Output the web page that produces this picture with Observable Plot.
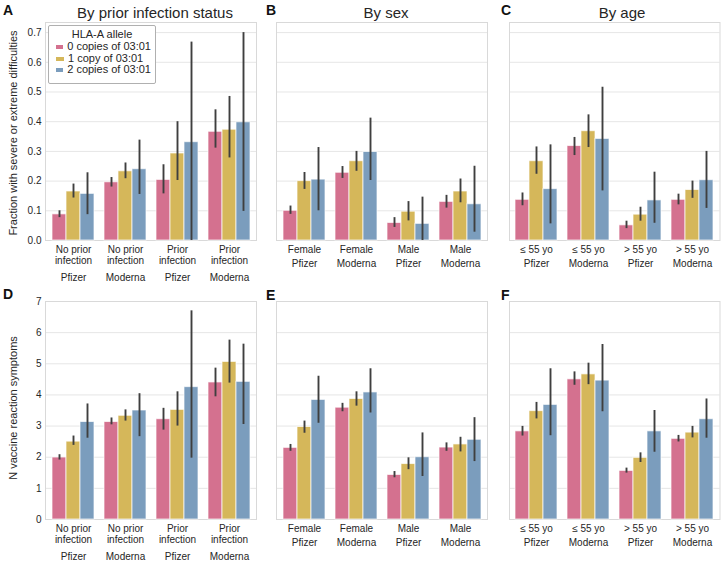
<!DOCTYPE html>
<html>
<head>
<meta charset="utf-8">
<script src="https://cdn.jsdelivr.net/npm/d3@7"></script>
<script src="https://cdn.jsdelivr.net/npm/@observablehq/plot@0.6"></script>
<style>
  body { margin: 0; background: #fff; }
  #fig { position: relative; width: 724px; height: 561px; overflow: hidden; background: #fff;
         font-family: "Liberation Sans", Arial, sans-serif; color: #262626; }
  .abs { position: absolute; white-space: nowrap; }
  .letter { font-weight: bold; font-size: 14px; color: #111; line-height: 1; }
  .title { font-size: 15px; line-height: 1; transform: translateX(-50%); }
  .ylab { font-size: 11px; line-height: 1; transform: translate(-50%, -50%) rotate(-90deg); }
  .legend { background: #fff; border: 1px solid #b0b0b0; border-radius: 2px; box-sizing: border-box;
            font-size: 11px; padding: 2px 4px 0 4px; z-index: 5; }
  .legend .lt { text-align: center; line-height: 12px; margin-bottom: 1px; }
  .legend .lr { display: flex; align-items: center; line-height: 11.7px; }
  .legend .sw { width: 8px; height: 4px; margin: 0 4px 0 3px; }
</style>
</head>
<body>
<div id="fig"></div>
<script>
// ---------- data ----------
const alleles = ["0 copies of 03:01", "1 copy of 03:01", "2 copies of 03:01"];
const alleleColors = ["#d4718f", "#d5b75a", "#7b9dbd"];
const legendTitle = "HLA-A allele";

const vaccines = ["Pfizer", "Moderna", "Pfizer", "Moderna"];
const infectionLabels = ["No prior\ninfection", "No prior\ninfection", "Prior\ninfection", "Prior\ninfection"];
const sexLabels = ["Female", "Female", "Male", "Male"];
const ageLabels = ["\u2264 55 yo", "\u2264 55 yo", "> 55 yo", "> 55 yo"];

const fractionTicks = [0, 0.1, 0.2, 0.3, 0.4, 0.5, 0.6, 0.7];
const countTicks = [0, 1, 2, 3, 4, 5, 6, 7];
const fractionDomain = [0, 0.734];
const countDomain = [0, 7];

const fractionLabel = "Fraction with severe or extreme difficulties";
const countLabel = "N vaccine reaction symptoms";

// A: severe fraction by prior infection
const severeInfection   = [[0.088, 0.165, 0.157], [0.196, 0.233, 0.240], [0.204, 0.293, 0.331], [0.366, 0.373, 0.398]];
const severeInfectionLo = [[0.077, 0.143, 0.087], [0.180, 0.208, 0.155], [0.157, 0.202, 0.000], [0.311, 0.278, 0.098]];
const severeInfectionHi = [[0.100, 0.190, 0.228], [0.212, 0.261, 0.338], [0.255, 0.400, 0.668], [0.440, 0.485, 0.700]];
// B: severe fraction by sex
const severeSex   = [[0.100, 0.200, 0.205], [0.228, 0.267, 0.298], [0.059, 0.097, 0.056], [0.130, 0.165, 0.122]];
const severeSexLo = [[0.088, 0.172, 0.100], [0.209, 0.233, 0.202], [0.044, 0.066, 0.000], [0.109, 0.127, 0.028]];
const severeSexHi = [[0.116, 0.229, 0.313], [0.249, 0.300, 0.412], [0.077, 0.131, 0.146], [0.152, 0.207, 0.250]];
// C: severe fraction by age
const severeAge   = [[0.137, 0.267, 0.173], [0.318, 0.368, 0.342], [0.051, 0.087, 0.135], [0.137, 0.170, 0.203]];
const severeAgeLo = [[0.117, 0.223, 0.056], [0.286, 0.313, 0.167], [0.040, 0.065, 0.058], [0.120, 0.142, 0.108]];
const severeAgeHi = [[0.160, 0.315, 0.322], [0.347, 0.423, 0.516], [0.065, 0.112, 0.230], [0.156, 0.200, 0.300]];
// D: N symptoms by prior infection
const symptomsInfection   = [[1.99, 2.50, 3.13], [3.13, 3.33, 3.50], [3.22, 3.52, 4.25], [4.40, 5.06, 4.42]];
const symptomsInfectionLo = [[1.91, 2.38, 2.61], [3.04, 3.16, 2.66], [2.87, 3.00, 1.97], [3.94, 4.38, 3.05]];
const symptomsInfectionHi = [[2.08, 2.68, 3.71], [3.26, 3.52, 4.04], [3.57, 4.10, 6.70], [4.86, 5.76, 5.63]];
// E: N symptoms by sex
const symptomsSex   = [[2.30, 2.97, 3.84], [3.59, 3.87, 4.08], [1.43, 1.78, 2.00], [2.31, 2.41, 2.56]];
const symptomsSexLo = [[2.19, 2.77, 3.09], [3.46, 3.64, 3.42], [1.34, 1.60, 1.38], [2.19, 2.17, 1.86]];
const symptomsSexHi = [[2.41, 3.16, 4.60], [3.73, 4.10, 4.84], [1.54, 1.98, 2.78], [2.46, 2.64, 3.27]];
// F: N symptoms by age
const symptomsAge   = [[2.83, 3.48, 3.68], [4.50, 4.66, 4.46], [1.56, 1.98, 2.83], [2.59, 2.79, 3.22]];
const symptomsAgeLo = [[2.68, 3.23, 2.69], [4.31, 4.33, 3.46], [1.49, 1.83, 2.16], [2.49, 2.62, 2.61]];
const symptomsAgeHi = [[2.99, 3.76, 4.84], [4.74, 5.02, 5.62], [1.65, 2.14, 3.50], [2.70, 2.99, 3.87]];

// ---------- layout ----------
const W = 724, H = 561;
const cols = [[45, 256], [276, 487], [509, 719.5]];
const rowsY = [[22, 240], [301, 519]];
const fig = document.getElementById("fig");
const FONT = '"Liberation Sans", Arial, sans-serif';

function panel(cfg) {
  const [l, r] = cols[cfg.col];
  const [t, b] = rowsY[cfg.row];
  const common = {
    width: W, height: H,
    marginLeft: l, marginRight: W - r, marginTop: t, marginBottom: H - b,
    style: {background: "transparent", fontFamily: FONT, position: "absolute", left: "0px", top: "0px", maxWidth: "none"}
  };
  // background: grid, frame, y tick labels
  const bgMarks = [
    Plot.ruleY(cfg.ticks, {stroke: "#e6e6e6", strokeWidth: 1}),
    Plot.frame({stroke: "#d9d9d9", strokeWidth: 1})
  ];
  if (cfg.showY) {
    bgMarks.push(Plot.text(cfg.ticks, {y: d => d, text: cfg.fmt,
      frameAnchor: "left", textAnchor: "end", dx: -4, fontSize: 10, fill: "#262626"}));
  }
  fig.appendChild(Plot.plot({...common, x: {domain: [0, 1], axis: null}, y: {domain: cfg.domain, axis: null}, marks: bgMarks}));

  // foreground: grouped bars with error bars, faceted by group
  const data = [];
  cfg.labels.forEach((lab, i) => alleles.forEach((a, j) => data.push({
    g: i, allele: a, value: cfg.values[i][j], lo: cfg.lo[i][j], hi: cfg.hi[i][j]
  })));
  const groups = cfg.labels.map((_, i) => i);
  const nLines = cfg.labels[0].split("\n").length;
  const marks = [
    Plot.barY(data, {fx: "g", x: "allele", y: "value", fill: "allele",
      stroke: "#ffffff", strokeOpacity: 0.7, strokeWidth: 1}),
    Plot.ruleX(data, {fx: "g", x: "allele", y1: "lo", y2: "hi", stroke: "#3f3f3f", strokeWidth: 1.9}),
    Plot.text(groups, {fx: d => d, text: d => cfg.labels[d], frameAnchor: "bottom",
      lineAnchor: "top", dy: 4, lineHeight: 1.15, fontSize: 10, fill: "#262626"}),
    Plot.text(groups, {fx: d => d, text: d => vaccines[d], frameAnchor: "bottom",
      lineAnchor: "top", dy: 7.5 + nLines * 11.5 + (nLines - 1) * 2.5, fontSize: 10, fill: "#262626"})
  ];
  fig.appendChild(Plot.plot({
    ...common,
    fx: {domain: groups, paddingInner: 0.2, paddingOuter: 0.1, axis: null},
    x: {domain: alleles, padding: 0, axis: null},
    y: {domain: cfg.domain, axis: null},
    color: {domain: alleles, range: alleleColors},
    marks
  }));
}

const fmt1 = d => d.toFixed(1);
const fmt0 = d => String(d);
panel({col: 0, row: 0, labels: infectionLabels, values: severeInfection, lo: severeInfectionLo, hi: severeInfectionHi, ticks: fractionTicks, domain: fractionDomain, showY: true, fmt: fmt1});
panel({col: 1, row: 0, labels: sexLabels, values: severeSex, lo: severeSexLo, hi: severeSexHi, ticks: fractionTicks, domain: fractionDomain});
panel({col: 2, row: 0, labels: ageLabels, values: severeAge, lo: severeAgeLo, hi: severeAgeHi, ticks: fractionTicks, domain: fractionDomain});
panel({col: 0, row: 1, labels: infectionLabels, values: symptomsInfection, lo: symptomsInfectionLo, hi: symptomsInfectionHi, ticks: countTicks, domain: countDomain, showY: true, fmt: fmt0});
panel({col: 1, row: 1, labels: sexLabels, values: symptomsSex, lo: symptomsSexLo, hi: symptomsSexHi, ticks: countTicks, domain: countDomain});
panel({col: 2, row: 1, labels: ageLabels, values: symptomsAge, lo: symptomsAgeLo, hi: symptomsAgeHi, ticks: countTicks, domain: countDomain});

// ---------- html annotations ----------
function addDiv(cls, text, css) {
  const d = document.createElement("div");
  d.className = "abs " + cls;
  d.textContent = text;
  Object.assign(d.style, css);
  fig.appendChild(d);
  return d;
}
const letters = [["A", 3, 3], ["B", 266, 3], ["C", 501, 3], ["D", 3, 287], ["E", 266, 288], ["F", 501, 288]];
letters.forEach(([t, x, y]) => addDiv("letter", t, {left: x + "px", top: y + "px"}));
const titles = [["By prior infection status", 155], ["By sex", 386], ["By age", 622]];
titles.forEach(([t, x]) => addDiv("title", t, {left: x + "px", top: "5px"}));
addDiv("ylab", fractionLabel, {left: "12.5px", top: "133px"});
addDiv("ylab", countLabel, {left: "12.5px", top: "408px"});

const lg = document.createElement("div");
lg.className = "abs legend";
Object.assign(lg.style, {left: "48px", top: "25px", width: "108px", height: "59px"});
const lt = document.createElement("div");
lt.className = "lt"; lt.textContent = legendTitle; lg.appendChild(lt);
alleles.forEach((a, i) => {
  const row = document.createElement("div"); row.className = "lr";
  const sw = document.createElement("span"); sw.className = "sw"; sw.style.background = alleleColors[i];
  const tx = document.createElement("span"); tx.textContent = a;
  row.appendChild(sw); row.appendChild(tx); lg.appendChild(row);
});
fig.appendChild(lg);
</script>
</body>
</html>
